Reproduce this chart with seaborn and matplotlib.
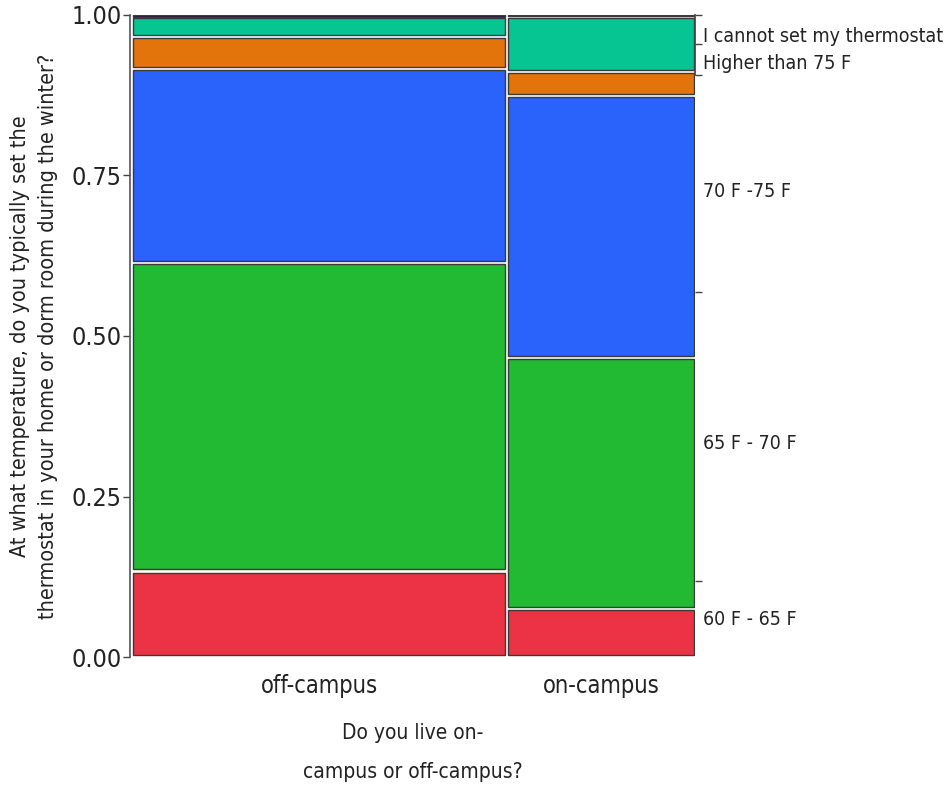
import matplotlib.pyplot as plt
import seaborn as sns

# survey: where students live vs thermostat setting (mosaic)
groups = ["off-campus", "on-campus"]
group_share = [0.666, 0.334]
temps = ["60 F - 65 F", "65 F - 70 F", "70 F -75 F", "Higher than 75 F",
         "I cannot set my thermostat", "Other"]
off_campus = [0.134, 0.480, 0.302, 0.050, 0.031, 0.003]
on_campus = [0.075, 0.391, 0.409, 0.037, 0.086, 0.002]
colors = ["#EC3346", "#22BA32", "#2963FC", "#E2740B", "#06C592", "#2B1347"]

right_labels = ["60 F - 65 F", "65 F - 70 F", "70 F -75 F", "Higher than 75 F",
                "I cannot set my thermostat"]
right_label_pos = [0.061, 0.336, 0.728, 0.928, 0.969]
right_tick_pos = [0.119, 0.569, 0.906, 0.955, 1.0]

sns.set_theme(style="white")
plt.rcParams['font.family'] = ['Liberation Sans Narrow', 'DejaVu Sans']
plt.rcParams['font.stretch'] = 'condensed'
txt = "#222222"

fig = plt.figure(figsize=(9.45, 7.85), dpi=100)
ax = fig.add_axes([0.1376, 0.163, 0.598, 0.818])

gap_x = 0.006
gap_y = 0.005
shares = [off_campus, on_campus]
left = 0.0
centers = []
for g, share in enumerate(group_share):
    x0 = left + (gap_x / 2 if g > 0 else 0)
    w = share - (gap_x / 2)
    centers.append(x0 + w / 2)
    cum = 0.0
    for p, c in zip(shares[g], colors):
        h = p - gap_y if p > 2 * gap_y else p
        ax.bar(x0, h, width=w, bottom=cum + (p - h) / 2, align='edge',
               color=c, edgecolor="#3a3a3a", linewidth=1.0)
        cum += p
    left += share

ax.set_xlim(-0.006, 1.002)
ax.set_ylim(0, 1)

# left axis
ax.set_yticks([0, 0.25, 0.5, 0.75, 1.0])
ax.set_yticklabels(["0.00", "0.25", "0.50", "0.75", "1.00"], fontsize=18, color=txt)
ax.tick_params(axis='y', length=5, width=1, color="#444444", pad=1)

# bottom axis: tick at the column boundary, labels at column centres
ax.set_xticks([group_share[0]], labels=[""])
ax.set_xticks(centers, labels=groups, minor=True)
ax.tick_params(axis='x', which='major', length=6, width=1, color="#444444")
ax.tick_params(axis='x', which='minor', length=0, labelsize=17, labelcolor=txt, pad=12)

for s in ["top", "bottom", "right"]:
    ax.spines[s].set_visible(False)
ax.spines["left"].set_color("#555555")
ax.spines["left"].set_linewidth(1.2)

ax.set_ylabel("At what temperature, do you typically set the\n"
              "thermostat in your home or dorm room during the winter?",
              fontsize=15.5, color=txt, linespacing=1.45, labelpad=10)
ax.set_xlabel("Do you live on-\ncampus or off-campus?", fontsize=15,
              color=txt, linespacing=2.2, labelpad=18)

# right side category labels
ax2 = ax.twinx()
ax2.set_ylim(0, 1)
ax2.set_yticks(right_tick_pos, labels=[""] * len(right_tick_pos))
ax2.set_yticks(right_label_pos, labels=right_labels, minor=True)
ax2.tick_params(axis='y', which='major', length=5, width=1, color="#444444")
ax2.tick_params(axis='y', which='minor', length=0, labelsize=14, labelcolor=txt, pad=6)
for s in ["top", "bottom", "left"]:
    ax2.spines[s].set_visible(False)
ax2.spines["right"].set_bounds(0.906, 1.0)
ax2.spines["right"].set_color("#444444")

fig.savefig("out.png", dpi=100)
